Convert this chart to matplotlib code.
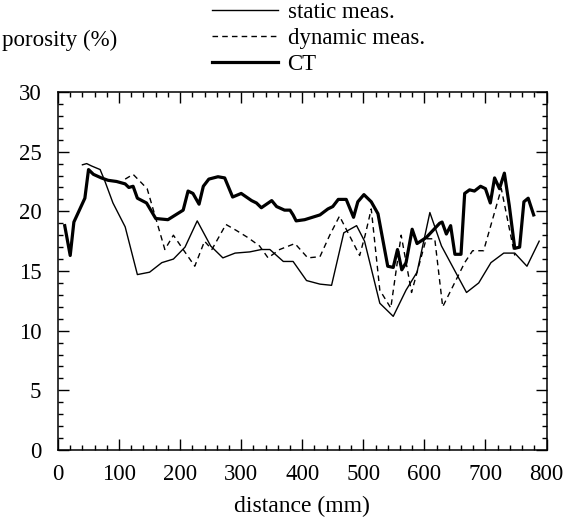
import matplotlib
matplotlib.use("Agg")
import matplotlib.pyplot as plt
from matplotlib.ticker import MultipleLocator

# ---- data ----
static_x = [40, 47, 55, 69, 77, 90, 110, 130, 150, 170, 189, 208, 228, 250, 270, 290, 314, 333,
            347, 369, 385, 407, 429, 448, 468, 489, 502, 527, 549, 570, 588, 609, 628, 649, 669,
            689, 709, 730, 748, 768, 788]
static_y = [23.9, 24.0, 23.8, 23.5, 22.5, 20.7, 18.7, 14.7, 14.9, 15.7, 16.0, 17.0, 19.2, 17.1,
            16.1, 16.5, 16.6, 16.8, 16.8, 15.8, 15.8, 14.2, 13.9, 13.8, 18.2, 18.8, 17.5, 12.3,
            11.2, 13.4, 14.9, 19.9, 17.1, 15.1, 13.2, 14.0, 15.7, 16.5, 16.5, 15.4, 17.5]

dynamic_x = [110, 123, 146, 175, 189, 205, 224, 240, 252, 275, 292, 311, 330, 344, 363, 388,
             409, 429, 445, 461, 472, 494, 503, 513, 527, 545, 562, 579, 603, 617, 630, 666,
             679, 697, 726, 748]
dynamic_y = [22.7, 23.1, 21.9, 16.8, 18.0, 16.8, 15.4, 17.5, 16.8, 18.9, 18.4, 17.8, 17.1, 16.1,
             16.8, 17.3, 16.1, 16.2, 18.0, 19.6, 18.5, 16.3, 18.0, 20.2, 13.4, 11.9, 18.0, 13.2,
             17.7, 17.7, 12.0, 15.7, 16.7, 16.7, 21.9, 16.3]

ct_x = [11, 20, 26, 44, 50, 58, 71, 82, 96, 110, 116, 123, 130, 145, 160, 180, 205, 213, 221,
        231, 238, 247, 262, 273, 286, 300, 317, 325, 333, 350, 358, 371, 380, 385, 390, 404,
        429, 442, 450, 459, 472, 484, 491, 501, 513, 524, 540, 549, 556, 563, 570, 580, 588,
        603, 614, 625, 629, 636, 643, 650, 660, 666, 674, 682, 692, 700, 708, 715, 723, 731,
        739, 748, 756, 763, 770, 779]
ct_y = [18.8, 16.3, 19.1, 21.1, 23.5, 23.1, 22.8, 22.6, 22.5, 22.3, 22.0, 22.1, 21.1, 20.7,
        19.4, 19.3, 20.1, 21.7, 21.5, 20.6, 22.1, 22.7, 22.9, 22.8, 21.2, 21.5, 20.9, 20.7,
        20.3, 20.9, 20.4, 20.1, 20.1, 19.7, 19.2, 19.3, 19.7, 20.2, 20.4, 21.0, 21.0, 19.5,
        20.8, 21.4, 20.8, 19.8, 15.4, 15.3, 16.8, 15.1, 15.7, 18.5, 17.3, 17.8, 18.4, 19.0,
        19.1, 18.1, 18.8, 16.4, 16.4, 21.5, 21.8, 21.7, 22.1, 21.9, 20.7, 22.8, 21.9, 23.2,
        20.5, 16.9, 17.0, 20.8, 21.1, 19.7]

x_ticks = [0, 100, 200, 300, 400, 500, 600, 700, 800]
y_ticks = [0, 5, 10, 15, 20, 25, 30]

FS = 16.5
plt.rcParams['font.family'] = ['Liberation Serif', 'DejaVu Serif']

W, H = 567, 519
fig = plt.figure(figsize=(W / 100, H / 100), dpi=100)
ax = fig.add_axes([58 / W, (H - 450) / H, (546.5 - 58) / W, (450 - 92) / H])

ax.plot(static_x, static_y, color='black', lw=1.0, label='static meas.')
ax.plot(dynamic_x, dynamic_y, color='black', lw=1.0, linestyle=(0, (4, 3)), label='dynamic meas.')
ax.plot(ct_x, ct_y, color='black', lw=2.3, label='CT')

ax.set_xlim(0, 800)
ax.set_ylim(0, 30)
ax.set_xticks(x_ticks)
ax.set_yticks(y_ticks)
ax.xaxis.set_minor_locator(MultipleLocator(20))
ax.yaxis.set_minor_locator(MultipleLocator(1))
ax.tick_params(which='both', direction='in', top=True, right=True, width=1.0, labelsize=FS)
ax.tick_params(which='major', length=8)
ax.tick_params(which='minor', length=3.5)
ax.tick_params(axis='x', pad=10)
ax.tick_params(axis='y', pad=12)
for s in ax.spines.values():
    s.set_linewidth(1.1)

ax.set_xlabel('distance (mm)', fontsize=FS + 0.5, labelpad=8)

fig.text(2 / W, 1 - 40 / H, 'porosity (%)', fontsize=FS, va='center', ha='left')

leg = fig.legend(loc='upper left', bbox_to_anchor=(212 / W, 1 - 2 / H), frameon=False,
                 fontsize=FS, handlelength=2.9, handletextpad=0.4, labelspacing=0.22,
                 borderpad=0.0, borderaxespad=0.0)

fig.savefig('out.png', dpi=100)
